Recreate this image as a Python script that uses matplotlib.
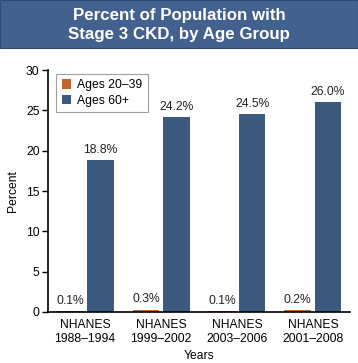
import numpy as np
import matplotlib
matplotlib.use('Agg')
import matplotlib.pyplot as plt
from matplotlib.patches import Rectangle

plt.rcParams['font.family'] = ['Liberation Sans', 'DejaVu Sans']

# data
surveys = ["NHANES\n1988\u20131994", "NHANES\n1999\u20132002", "NHANES\n2003\u20132006", "NHANES\n2001\u20132008"]
ages_20_39 = [0.1, 0.3, 0.1, 0.2]
ages_60 = [18.8, 24.2, 24.5, 26.0]
series_names = ["Ages 20\u201339", "Ages 60+"]
yticks = [0, 5, 10, 15, 20, 25, 30]

orange = "#c3652c"
blue = "#3c5a80"
band = "#43618f"
fs = 8.7

fig = plt.figure(figsize=(3.58, 3.63), dpi=100)

# title band across the top
fig.patches.append(Rectangle((0, 0.868), 1, 0.132, transform=fig.transFigure,
                             facecolor=band, edgecolor="#2f4a70", lw=0.8, zorder=0))
fig.text(0.5, 0.932, "Percent of Population with\nStage 3 CKD, by Age Group",
         ha="center", va="center", color="white", fontsize=12.2,
         fontweight="bold", linespacing=1.35)

ax = fig.add_axes([0.134, 0.1405, 0.844, 0.6665])

x = np.arange(len(surveys))
w = 0.35
b1 = ax.bar(x - 0.2, ages_20_39, w, color=orange, label=series_names[0])
b2 = ax.bar(x + 0.2, ages_60, w, color=blue, label=series_names[1])

for bars in (b1, b2):
    ax.bar_label(bars, labels=["{0:.1f}%".format(v) for v in bars.datavalues],
                 padding=3, fontsize=fs, color="#222222")

ax.set_xlim(-0.49, 3.49)
ax.set_ylim(0, 30)
ax.set_yticks(yticks)
ax.set_xticks(x)
ax.set_xticklabels(surveys, fontsize=fs, linespacing=1.2)
ax.tick_params(axis='x', length=0, pad=5)
ax.tick_params(axis='y', labelsize=fs, length=4, width=1, pad=2)

ax.spines['top'].set_visible(False)
ax.spines['right'].set_visible(False)
ax.spines['left'].set_linewidth(1.2)
ax.spines['bottom'].set_linewidth(1.2)

ax.set_ylabel("Percent", fontsize=fs, labelpad=5)
ax.set_xlabel("Years", fontsize=fs, labelpad=4)

leg = ax.legend(loc="upper left", bbox_to_anchor=(0.015, 1.0), fontsize=fs,
                frameon=True, fancybox=False, edgecolor="#888888",
                handlelength=0.8, handleheight=0.8, handletextpad=0.5,
                borderpad=0.45, labelspacing=0.3, borderaxespad=0.3)
leg.get_frame().set_linewidth(0.8)

fig.savefig("out.png", dpi=100)
